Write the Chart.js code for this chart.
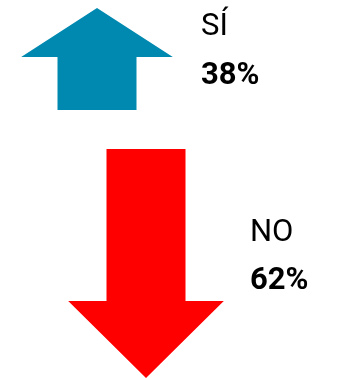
<!DOCTYPE html>
<html>
<head>
<meta charset="utf-8">
<script src="https://cdn.jsdelivr.net/npm/chart.js@4"></script>
<style>
  html, body { margin: 0; padding: 0; background: #fff; }
  #wrap { width: 337px; height: 378px; position: relative; }
</style>
</head>
<body>
<div id="wrap"><canvas id="arrowChart"></canvas></div>
<script>
// respuestas SÍ / NO
const labels = ['SÍ', 'NO'];
const values = [38, 62];
const directions = ['up', 'down'];
const colors = ['#0089B0', '#FF0000'];

// flechas dibujadas sobre la posición de cada barra
const arrowPlugin = {
    id: 'arrows',
    beforeDatasetsDraw(chart, args, opts) {
        const ctx = chart.ctx;
        const meta = chart.getDatasetMeta(0);
        const H = chart.height;
        meta.data.forEach((bar, i) => {
            const cx = bar.x;
            const half = bar.width / 2;
            const g = opts.shapes[directions[i]];
            const headHalf = half * g.head;
            const top = g.top * H, neck = g.neck * H, end = g.end * H;
            ctx.save();
            ctx.fillStyle = colors[i];
            ctx.beginPath();
            ctx.moveTo(cx, top);
            ctx.lineTo(cx + headHalf, neck);
            ctx.lineTo(cx + half, neck);
            ctx.lineTo(cx + half, end);
            ctx.lineTo(cx - half, end);
            ctx.lineTo(cx - half, neck);
            ctx.lineTo(cx - headHalf, neck);
            ctx.closePath();
            ctx.fill();

            // texto
            const tx = cx + opts.textDx;
            const t = opts.text[directions[i]];
            ctx.fillStyle = '#000';
            ctx.textAlign = 'left';
            ctx.textBaseline = 'alphabetic';
            ctx.font = opts.fontSize + 'px Roboto';
            ctx.fillText(labels[i], tx, t.label * H);
            ctx.font = 'bold ' + opts.fontSize + 'px Roboto';
            ctx.fillText(values[i] + '%', tx, t.value * H);
            ctx.restore();
        });
        return false;
    }
};

const chartE = document.getElementById('arrowChart');
const arrowChart = new Chart(chartE, {
    type: 'bar',
    data: {
        labels: labels,
        datasets: [{
            label: 'respuestas',
            data: values,
            backgroundColor: colors,
            barThickness: 79
        }]
    },
    options: {
        responsive: true,
        maintainAspectRatio: false,
        animation: false,
        layout: {
            padding: { left: 72.5, right: 166.5, top: 0, bottom: 0 }
        },
        scales: {
            x: { display: false },
            y: { display: false, beginAtZero: true, max: 100 }
        },
        plugins: {
            legend: { display: false },
            tooltip: { enabled: false },
            arrows: {
                textDx: 104,
                fontSize: 31,
                // fracciones de la altura del lienzo
                shapes: {
                    up: { top: 8 / 378, neck: 57 / 378, end: 110 / 378, head: 1.92 },
                    down: { top: 378 / 378, neck: 301 / 378, end: 149 / 378, head: 1.97 }
                },
                text: {
                    up: { label: 34.5 / 378, value: 84 / 378 },
                    down: { label: 241 / 378, value: 289 / 378 }
                }
            }
        }
    },
    plugins: [arrowPlugin]
});
</script>
</body>
</html>
